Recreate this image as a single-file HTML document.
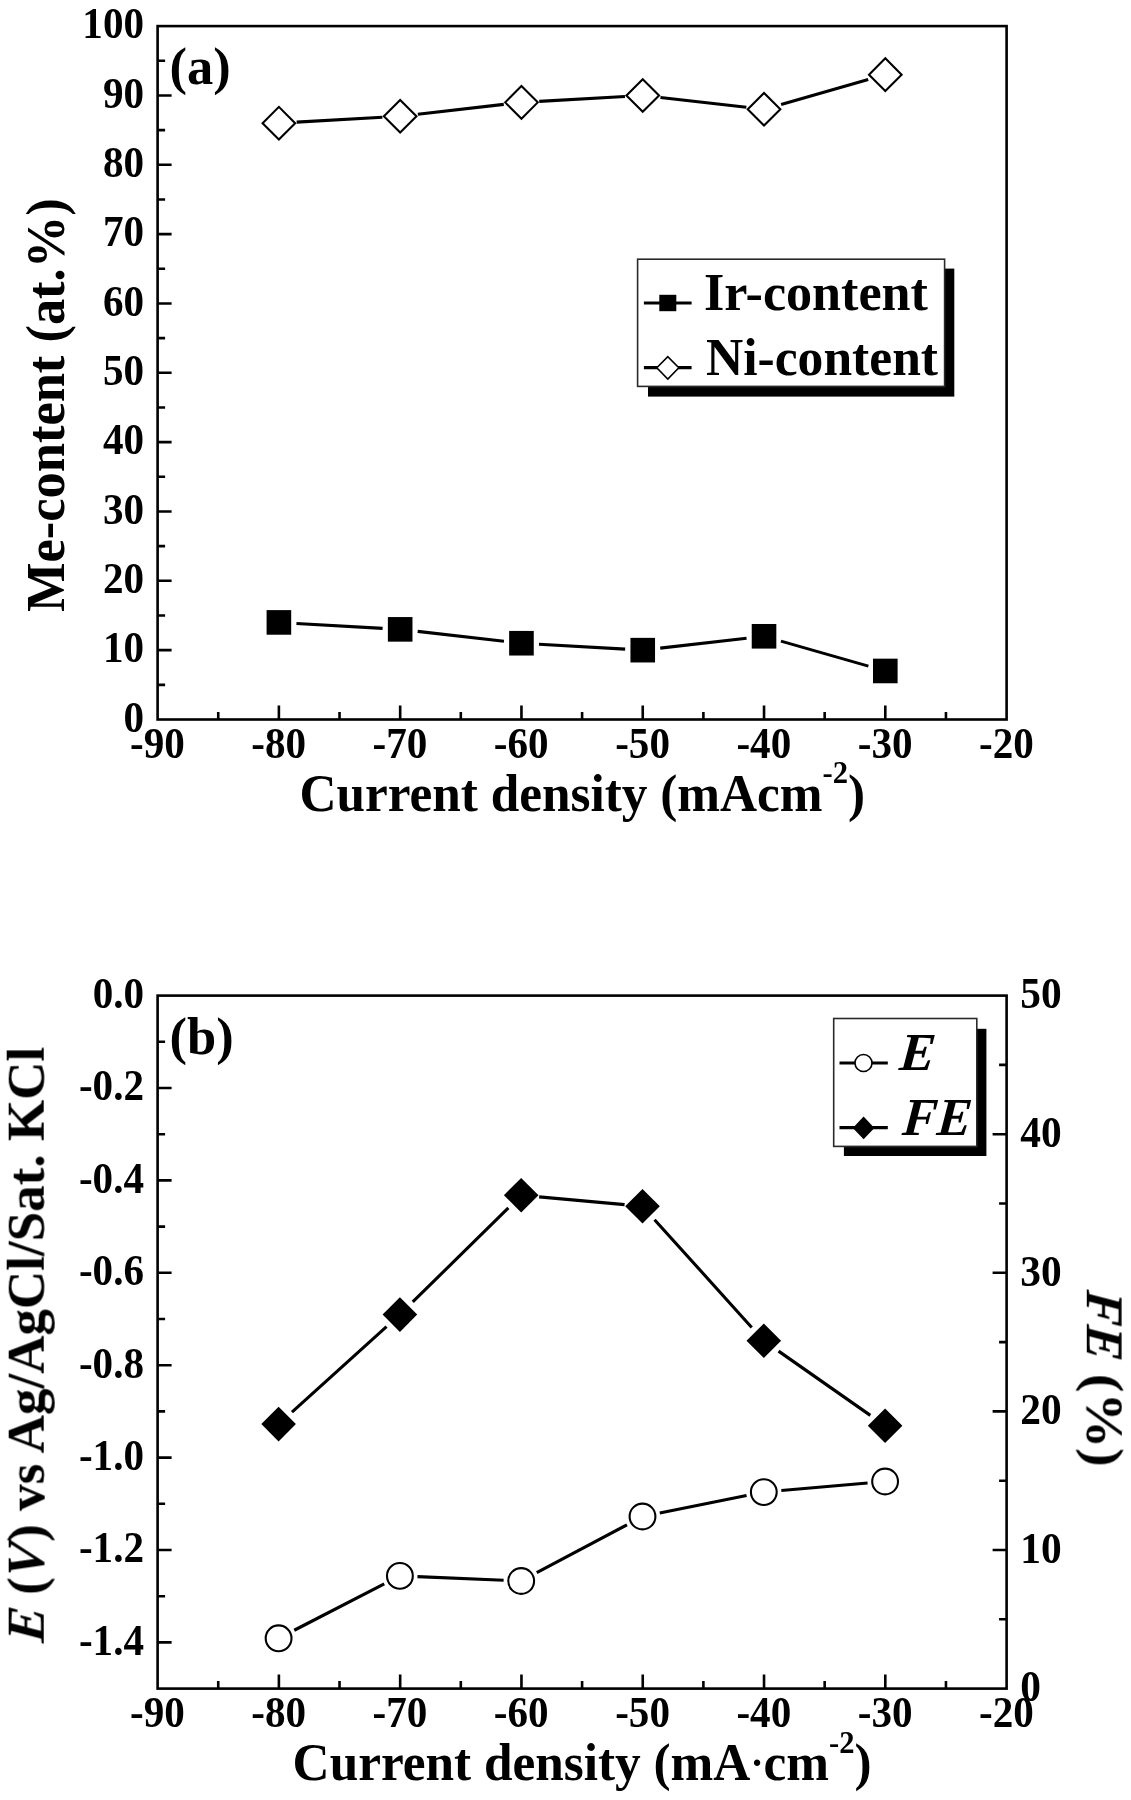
<!DOCTYPE html>
<html lang="en"><head><meta charset="utf-8"><title>Figure</title>
<style>html,body{margin:0;padding:0;background:#fff}svg{display:block}text{font-family:"Liberation Serif", "DejaVu Serif", serif;font-weight:bold;fill:#000}.ax{stroke:#000;stroke-width:2.6;fill:none;stroke-linecap:butt}.ln{stroke:#000;stroke-width:3.1;fill:none;stroke-linecap:butt}</style></head><body>
<svg width="1131" height="1800" viewBox="0 0 1131 1800">
<defs><filter id="soft" filterUnits="userSpaceOnUse" x="0" y="0" width="1131" height="1800"><feGaussianBlur stdDeviation="0.5"/></filter></defs>
<rect width="1131" height="1800" fill="#fff"/>
<g filter="url(#soft)">
<rect width="1131" height="1800" fill="#fff"/>
<rect class="ax" x="157.6" y="26.1" width="849" height="693.4"/>
<path class="ax" d="M157.6 650.16h14M157.6 580.82h14M157.6 511.48h14M157.6 442.14h14M157.6 372.8h14M157.6 303.46h14M157.6 234.12h14M157.6 164.78h14M157.6 95.44h14M157.6 684.83h7.5M157.6 615.49h7.5M157.6 546.15h7.5M157.6 476.81h7.5M157.6 407.47h7.5M157.6 338.13h7.5M157.6 268.79h7.5M157.6 199.45h7.5M157.6 130.11h7.5M157.6 60.77h7.5M278.89 719.5v-14M400.17 719.5v-14M521.46 719.5v-14M642.74 719.5v-14M764.03 719.5v-14M885.31 719.5v-14M218.24 719.5v-7.5M339.53 719.5v-7.5M460.81 719.5v-7.5M582.1 719.5v-7.5M703.39 719.5v-7.5M824.67 719.5v-7.5M945.96 719.5v-7.5"/>
<text transform="translate(144 731.8) scale(0.945 1)" font-size="43.5" text-anchor="end">0</text>
<text transform="translate(144 662.46) scale(0.945 1)" font-size="43.5" text-anchor="end">10</text>
<text transform="translate(144 593.12) scale(0.945 1)" font-size="43.5" text-anchor="end">20</text>
<text transform="translate(144 523.78) scale(0.945 1)" font-size="43.5" text-anchor="end">30</text>
<text transform="translate(144 454.44) scale(0.945 1)" font-size="43.5" text-anchor="end">40</text>
<text transform="translate(144 385.1) scale(0.945 1)" font-size="43.5" text-anchor="end">50</text>
<text transform="translate(144 315.76) scale(0.945 1)" font-size="43.5" text-anchor="end">60</text>
<text transform="translate(144 246.42) scale(0.945 1)" font-size="43.5" text-anchor="end">70</text>
<text transform="translate(144 177.08) scale(0.945 1)" font-size="43.5" text-anchor="end">80</text>
<text transform="translate(144 107.74) scale(0.945 1)" font-size="43.5" text-anchor="end">90</text>
<text transform="translate(144 38.4) scale(0.945 1)" font-size="43.5" text-anchor="end">100</text>
<text transform="translate(157.4 758.1) scale(0.945 1)" font-size="43.5" text-anchor="middle">-90</text>
<text transform="translate(278.69 758.1) scale(0.945 1)" font-size="43.5" text-anchor="middle">-80</text>
<text transform="translate(399.97 758.1) scale(0.945 1)" font-size="43.5" text-anchor="middle">-70</text>
<text transform="translate(521.26 758.1) scale(0.945 1)" font-size="43.5" text-anchor="middle">-60</text>
<text transform="translate(642.54 758.1) scale(0.945 1)" font-size="43.5" text-anchor="middle">-50</text>
<text transform="translate(763.83 758.1) scale(0.945 1)" font-size="43.5" text-anchor="middle">-40</text>
<text transform="translate(885.11 758.1) scale(0.945 1)" font-size="43.5" text-anchor="middle">-30</text>
<text transform="translate(1006.4 758.1) scale(0.945 1)" font-size="43.5" text-anchor="middle">-20</text>
<text x="299.4" y="811.2" font-size="52" textLength="565.7" lengthAdjust="spacingAndGlyphs">Current density (mAcm<tspan font-size="31" dy="-28.5">-2</tspan><tspan dy="28.5">)</tspan></text>
<text transform="translate(64.1 612) rotate(-90)" font-size="55" textLength="413.6" lengthAdjust="spacingAndGlyphs">Me-content (at.%)</text>
<text x="169.6" y="84.4" font-size="52.5">(a)</text>
<path class="ln" d="M296.66 122.16L382.4 117.26M417.86 114.22L503.77 104.4M539.23 101.36L624.97 96.46M660.43 97.46L746.34 107.29M781.14 104.42L868.2 79.53"/>
<path class="ln" d="M296.46 623.43L382.6 628.35M417.66 631.36L503.97 641.23M539.03 644.23L625.17 649.16M660.23 648.16L746.54 638.29M780.95 641.13L868.39 666.12"/>
<path d="M262.59 123.18L278.89 106.88L295.19 123.18L278.89 139.48Z" fill="#fff" stroke="#000" stroke-width="2.1" stroke-linejoin="miter"/>
<path d="M383.87 116.24L400.17 99.94L416.47 116.24L400.17 132.54Z" fill="#fff" stroke="#000" stroke-width="2.1" stroke-linejoin="miter"/>
<path d="M505.16 102.37L521.46 86.07L537.76 102.37L521.46 118.67Z" fill="#fff" stroke="#000" stroke-width="2.1" stroke-linejoin="miter"/>
<path d="M626.44 95.44L642.74 79.14L659.04 95.44L642.74 111.74Z" fill="#fff" stroke="#000" stroke-width="2.1" stroke-linejoin="miter"/>
<path d="M747.73 109.31L764.03 93.01L780.33 109.31L764.03 125.61Z" fill="#fff" stroke="#000" stroke-width="2.1" stroke-linejoin="miter"/>
<path d="M869.01 74.64L885.31 58.34L901.61 74.64L885.31 90.94Z" fill="#fff" stroke="#000" stroke-width="2.1" stroke-linejoin="miter"/>
<rect x="266.59" y="610.12" width="24.6" height="24.6" fill="#000"/>
<rect x="387.87" y="617.06" width="24.6" height="24.6" fill="#000"/>
<rect x="509.16" y="630.93" width="24.6" height="24.6" fill="#000"/>
<rect x="630.44" y="637.86" width="24.6" height="24.6" fill="#000"/>
<rect x="751.73" y="623.99" width="24.6" height="24.6" fill="#000"/>
<rect x="873.01" y="658.66" width="24.6" height="24.6" fill="#000"/>
<rect x="648" y="268.6" width="306.3" height="128" fill="#000"/>
<rect x="637.6" y="259.2" width="307" height="127.2" fill="#fff" stroke="#2a2a2a" stroke-width="1.6"/>
<path class="ln" d="M643.9 303H691.6M643.9 367.6H691.6" style="stroke-width:3.2"/>
<rect x="659.3" y="294.8" width="17" height="16.4" fill="#000"/>
<path d="M656.8 367.8L667.8 356.6L678.8 367.8L667.8 379Z" fill="#fff" stroke="#000" stroke-width="1.6"/>
<text x="704" y="310.3" font-size="53" textLength="224" lengthAdjust="spacingAndGlyphs">Ir-content</text>
<text x="706" y="375.2" font-size="53" textLength="232" lengthAdjust="spacingAndGlyphs">Ni-content</text>
<rect class="ax" x="157.6" y="995.6" width="849" height="693"/>
<path class="ax" d="M157.6 1088h14M157.6 1180.4h14M157.6 1272.8h14M157.6 1365.2h14M157.6 1457.6h14M157.6 1550h14M157.6 1642.4h14M157.6 1041.8h7.5M157.6 1134.2h7.5M157.6 1226.6h7.5M157.6 1319h7.5M157.6 1411.4h7.5M157.6 1503.8h7.5M157.6 1596.2h7.5M278.89 1688.6v-14M400.17 1688.6v-14M521.46 1688.6v-14M642.74 1688.6v-14M764.03 1688.6v-14M885.31 1688.6v-14M218.24 1688.6v-7.5M339.53 1688.6v-7.5M460.81 1688.6v-7.5M582.1 1688.6v-7.5M703.39 1688.6v-7.5M824.67 1688.6v-7.5M945.96 1688.6v-7.5M1006.6 1550h-14M1006.6 1411.4h-14M1006.6 1272.8h-14M1006.6 1134.2h-14M1006.6 1619.3h-7.5M1006.6 1480.7h-7.5M1006.6 1342.1h-7.5M1006.6 1203.5h-7.5M1006.6 1064.9h-7.5"/>
<text transform="translate(144 1007.9) scale(0.945 1)" font-size="43.5" text-anchor="end">0.0</text>
<text transform="translate(144 1100.3) scale(0.945 1)" font-size="43.5" text-anchor="end">-0.2</text>
<text transform="translate(144 1192.7) scale(0.945 1)" font-size="43.5" text-anchor="end">-0.4</text>
<text transform="translate(144 1285.1) scale(0.945 1)" font-size="43.5" text-anchor="end">-0.6</text>
<text transform="translate(144 1377.5) scale(0.945 1)" font-size="43.5" text-anchor="end">-0.8</text>
<text transform="translate(144 1469.9) scale(0.945 1)" font-size="43.5" text-anchor="end">-1.0</text>
<text transform="translate(144 1562.3) scale(0.945 1)" font-size="43.5" text-anchor="end">-1.2</text>
<text transform="translate(144 1654.7) scale(0.945 1)" font-size="43.5" text-anchor="end">-1.4</text>
<text transform="translate(157.4 1727.2) scale(0.945 1)" font-size="43.5" text-anchor="middle">-90</text>
<text transform="translate(278.69 1727.2) scale(0.945 1)" font-size="43.5" text-anchor="middle">-80</text>
<text transform="translate(399.97 1727.2) scale(0.945 1)" font-size="43.5" text-anchor="middle">-70</text>
<text transform="translate(521.26 1727.2) scale(0.945 1)" font-size="43.5" text-anchor="middle">-60</text>
<text transform="translate(642.54 1727.2) scale(0.945 1)" font-size="43.5" text-anchor="middle">-50</text>
<text transform="translate(763.83 1727.2) scale(0.945 1)" font-size="43.5" text-anchor="middle">-40</text>
<text transform="translate(885.11 1727.2) scale(0.945 1)" font-size="43.5" text-anchor="middle">-30</text>
<text transform="translate(1006.4 1727.2) scale(0.945 1)" font-size="43.5" text-anchor="middle">-20</text>
<text transform="translate(1020.3 1701.4) scale(0.945 1)" font-size="43.8">0</text>
<text transform="translate(1020.3 1562.8) scale(0.945 1)" font-size="43.8">10</text>
<text transform="translate(1020.3 1424.2) scale(0.945 1)" font-size="43.8">20</text>
<text transform="translate(1020.3 1285.6) scale(0.945 1)" font-size="43.8">30</text>
<text transform="translate(1020.3 1147) scale(0.945 1)" font-size="43.8">40</text>
<text transform="translate(1020.3 1008.4) scale(0.945 1)" font-size="43.8">50</text>
<text x="292.6" y="1779.8" font-size="52" textLength="579" lengthAdjust="spacingAndGlyphs">Current density (mA<tspan font-size="40" dy="-3.6">·</tspan><tspan dy="3.6">cm</tspan><tspan font-size="31" dy="-27.3">-2</tspan><tspan dy="27.3">)</tspan></text>
<g transform="translate(43.7 1643.4) rotate(-90) scale(0.9895 1)" font-size="53.6">
<text transform="translate(0 0) skewX(-5)" font-style="italic">E</text>
<text x="35.75" y="0" style="white-space:pre"> (</text>
<text transform="translate(65.5 0) skewX(-5)" font-style="italic">V</text>
<text x="102.75" y="0">) vs Ag/AgCl/Sat. KCl</text>
</g>
<g transform="translate(1086.8 1289.4) rotate(90)" font-size="53">
<text transform="skewX(-5)" font-style="italic" textLength="69.64" lengthAdjust="spacingAndGlyphs">FE</text>
<text x="70.7" y="0" style="white-space:pre" textLength="106.63" lengthAdjust="spacingAndGlyphs"> (%)</text>
</g>
<text x="169.6" y="1053.9" font-size="52.5">(b)</text>
<path class="ln" d="M291.96 1412.04L386.54 1326.66M412.73 1301.97L508.37 1207.83M539.13 1196.84L624.57 1204.66M654.56 1219.67L751.74 1327.43M778.55 1351.12L870.35 1415.38"/>
<path class="ln" d="M294.25 1630.25L384.25 1583.95M417.48 1576.64L503.62 1580.26M536.74 1572.74L626.96 1524.76M659.75 1513.03L746.55 1495.57M781.33 1490.57L867.57 1483.03"/>
<path d="M261.3 1424.1L278.6 1406.8L295.9 1424.1L278.6 1441.4Z" fill="#000"/>
<path d="M382.6 1314.6L399.9 1297.3L417.2 1314.6L399.9 1331.9Z" fill="#000"/>
<path d="M503.9 1195.2L521.2 1177.9L538.5 1195.2L521.2 1212.5Z" fill="#000"/>
<path d="M625.2 1206.3L642.5 1189L659.8 1206.3L642.5 1223.6Z" fill="#000"/>
<path d="M746.5 1340.8L763.8 1323.5L781.1 1340.8L763.8 1358.1Z" fill="#000"/>
<path d="M867.8 1425.7L885.1 1408.4L902.4 1425.7L885.1 1443Z" fill="#000"/>
<circle cx="278.6" cy="1638.3" r="12.9" fill="#fff" stroke="#000" stroke-width="2.1"/>
<circle cx="399.9" cy="1575.9" r="12.9" fill="#fff" stroke="#000" stroke-width="2.1"/>
<circle cx="521.2" cy="1581" r="12.9" fill="#fff" stroke="#000" stroke-width="2.1"/>
<circle cx="642.5" cy="1516.5" r="12.9" fill="#fff" stroke="#000" stroke-width="2.1"/>
<circle cx="763.8" cy="1492.1" r="12.9" fill="#fff" stroke="#000" stroke-width="2.1"/>
<circle cx="885.1" cy="1481.5" r="12.9" fill="#fff" stroke="#000" stroke-width="2.1"/>
<rect x="843.9" y="1028.8" width="142.5" height="127.2" fill="#000"/>
<rect x="833.7" y="1018.5" width="143.1" height="127.9" fill="#fff" stroke="#2a2a2a" stroke-width="1.6"/>
<path class="ln" d="M839.5 1063H887.8M839.5 1127.7H887.8" style="stroke-width:3.2"/>
<circle cx="863.5" cy="1063" r="8.5" fill="#fff" stroke="#000" stroke-width="1.6"/>
<path d="M852.8 1127.9L863.6 1116.6L874.4 1127.9L863.6 1139.2Z" fill="#000"/>
<text transform="translate(898.4 1069.7) skewX(-5)" font-size="53.5" font-style="italic">E</text>
<text transform="translate(901.4 1134.8) skewX(-5)" font-size="53.5" font-style="italic" textLength="69" lengthAdjust="spacingAndGlyphs">FE</text>
</g>
</svg></body></html>
